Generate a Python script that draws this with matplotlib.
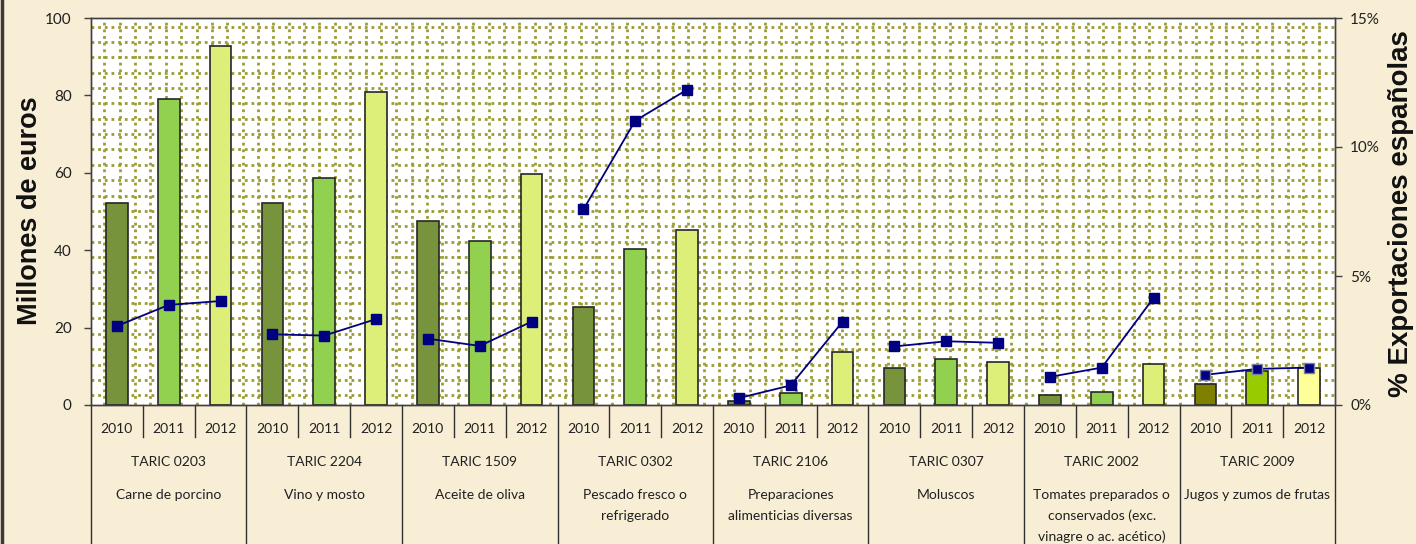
import matplotlib
matplotlib.use('Agg')
import matplotlib.pyplot as plt
import numpy as np
from matplotlib.lines import Line2D

# ---------------- data ----------------
years = ['2010', '2011', '2012']
taric_codes = ['TARIC 0203', 'TARIC 2204', 'TARIC 1509', 'TARIC 0302',
               'TARIC 2106', 'TARIC 0307', 'TARIC 2002', 'TARIC 2009']
descriptions = ['Carne de porcino', 'Vino y mosto', 'Aceite de oliva',
                'Pescado fresco o\nrefrigerado',
                'Preparaciones\nalimenticias diversas', 'Moluscos',
                'Tomates preparados o\nconservados (exc.\nvinagre o ac. acético)',
                'Jugos y zumos de frutas']
# Millones de euros (2010, 2011, 2012 per product)
millones = [52.3, 79.0, 92.8,
            52.3, 58.6, 81.0,
            47.5, 42.5, 59.7,
            25.3, 40.4, 45.3,
            0.95, 3.1, 13.8,
            9.5, 12.0, 11.2,
            2.7, 3.4, 10.6,
            5.5, 8.7, 9.5]
# % Exportaciones españolas
pct_export = [3.06, 3.88, 4.03,
              2.74, 2.69, 3.33,
              2.57, 2.29, 3.23,
              7.58, 11.02, 12.22,
              0.27, 0.76, 3.23,
              2.27, 2.47, 2.41,
              1.09, 1.45, 4.15,
              1.17, 1.40, 1.45]
left_ticks = [0, 20, 40, 60, 80, 100]
right_ticks = [0, 5, 10, 15]
right_labels = ['0%', '5%', '10%', '15%']

# ---------------- style ----------------
W, H = 1416, 544
bg = '#F8EED6'
year_colors = ['#77933C', '#92D050', '#DDEF78']
last_colors = ['#808000', '#99CC00', '#FFFF99']
grid_color = '#9C9C34'
txt_font = ['Lato', 'DejaVu Sans']
title_font = ['Liberation Sans', 'DejaVu Sans']

fig = plt.figure(figsize=(W / 100, H / 100), dpi=100)
fig.patch.set_facecolor(bg)

x0, x1, ytop, ybot = 91, 1335, 18, 405
ax = fig.add_axes([x0 / W, 1 - ybot / H, (x1 - x0) / W, (ybot - ytop) / H])
ax.set_facecolor('white')
n_groups = len(taric_codes)
n = n_groups * len(years)
ax.set_xlim(-0.5, n - 0.5)
ax.set_ylim(0, 100)

# dotted pattern grid
cat_px = (x1 - x0) / n
hy = [97.8 - 3.97 * k for k in range(25) if 97.8 - 3.97 * k > 0.5]
ax.hlines(hy, -0.5, n - 0.5, colors=grid_color, linestyles=(0, (1, 1.4)), lw=2.0, zorder=0.5)
vx = []
k = 0
while True:
    p = 13.3 + 15.37 * k
    if p > (x1 - x0) - 3:
        break
    vx.append(-0.5 + p / cat_px)
    k += 1
ax.vlines(vx, 0, 100, colors=grid_color, linestyles=(0, (1, 1.4)), lw=2.0, zorder=0.5)

xpos = np.arange(n)
colors = []
for g in range(n_groups):
    colors += (last_colors if g == n_groups - 1 else year_colors)
ax.bar(xpos, millones, width=0.42, color=colors, edgecolor='#262626', linewidth=1.2, zorder=2)

ax2 = ax.twinx()
ax2.set_ylim(0, 15)
for g in range(n_groups):
    sl = slice(3 * g, 3 * g + 3)
    mec = '#8080A0' if g == n_groups - 1 else '#000080'
    ax2.plot(xpos[sl], pct_export[sl], color='#000080', lw=1.3, marker='s',
             ms=6.5, mfc='#000080', mec=mec, mew=1, zorder=3)

# axes styling
for a in (ax, ax2):
    for s in a.spines.values():
        s.set_color('#404040')
        s.set_linewidth(1.0)
ax.set_xticks([])
ax.set_yticks(left_ticks)
ax.set_yticklabels([str(t) for t in left_ticks], fontfamily=txt_font, fontsize=11, color='#202020')
ax.tick_params(axis='y', direction='out', length=5, width=1, color='#404040', pad=9)
ax2.set_yticks(right_ticks)
ax2.set_yticklabels(right_labels, fontfamily=txt_font, fontsize=11, color='#202020')
ax2.tick_params(axis='y', direction='out', length=5, width=1, color='#404040', pad=6)

# category table below axis
tr = ax.get_xaxis_transform()
axh = ybot - ytop
def fy(px):
    return (ybot - px) / axh

for i in range(n - 1):
    if (i + 1) % 3 != 0:
        ax.plot([i + 0.5, i + 0.5], [0, fy(437)], color='#303030', lw=1, transform=tr, clip_on=False)
for g in range(n_groups + 1):
    xb = -0.5 + 3 * g
    ax.plot([xb, xb], [0, fy(546)], color='#303030', lw=1, transform=tr, clip_on=False)

for i in range(n):
    ax.text(i, fy(429), years[i % 3], transform=tr, ha='center', va='center',
            fontfamily=txt_font, fontsize=10, color='#202020')
for g in range(n_groups):
    xc = 3 * g + 1
    ax.text(xc, fy(462), taric_codes[g], transform=tr, ha='center', va='center',
            fontfamily=txt_font, fontsize=10, color='#202020')
    for j, line in enumerate(descriptions[g].split('\n')):
        ax.text(xc, fy(495 + 21 * j), line, transform=tr, ha='center', va='center',
                fontfamily=txt_font, fontsize=10, color='#202020')

# axis titles
fig.text(30 / W, 1 - 211 / H, 'Millones de euros', rotation=90, ha='center', va='center',
         fontsize=19.5, fontweight='bold', fontfamily=title_font, color='#111111')
fig.text(1401 / W, 1 - 214 / H, '% Exportaciones españolas', rotation=90, ha='center',
         va='center', fontsize=20, fontweight='bold', fontfamily=title_font, color='#111111')

# left dark border of slide
fig.add_artist(Line2D([1.5 / W, 1.5 / W], [0, 1], color='#3A3A3A', lw=2.5))

fig.savefig('out.png', dpi=100, facecolor=fig.get_facecolor())
